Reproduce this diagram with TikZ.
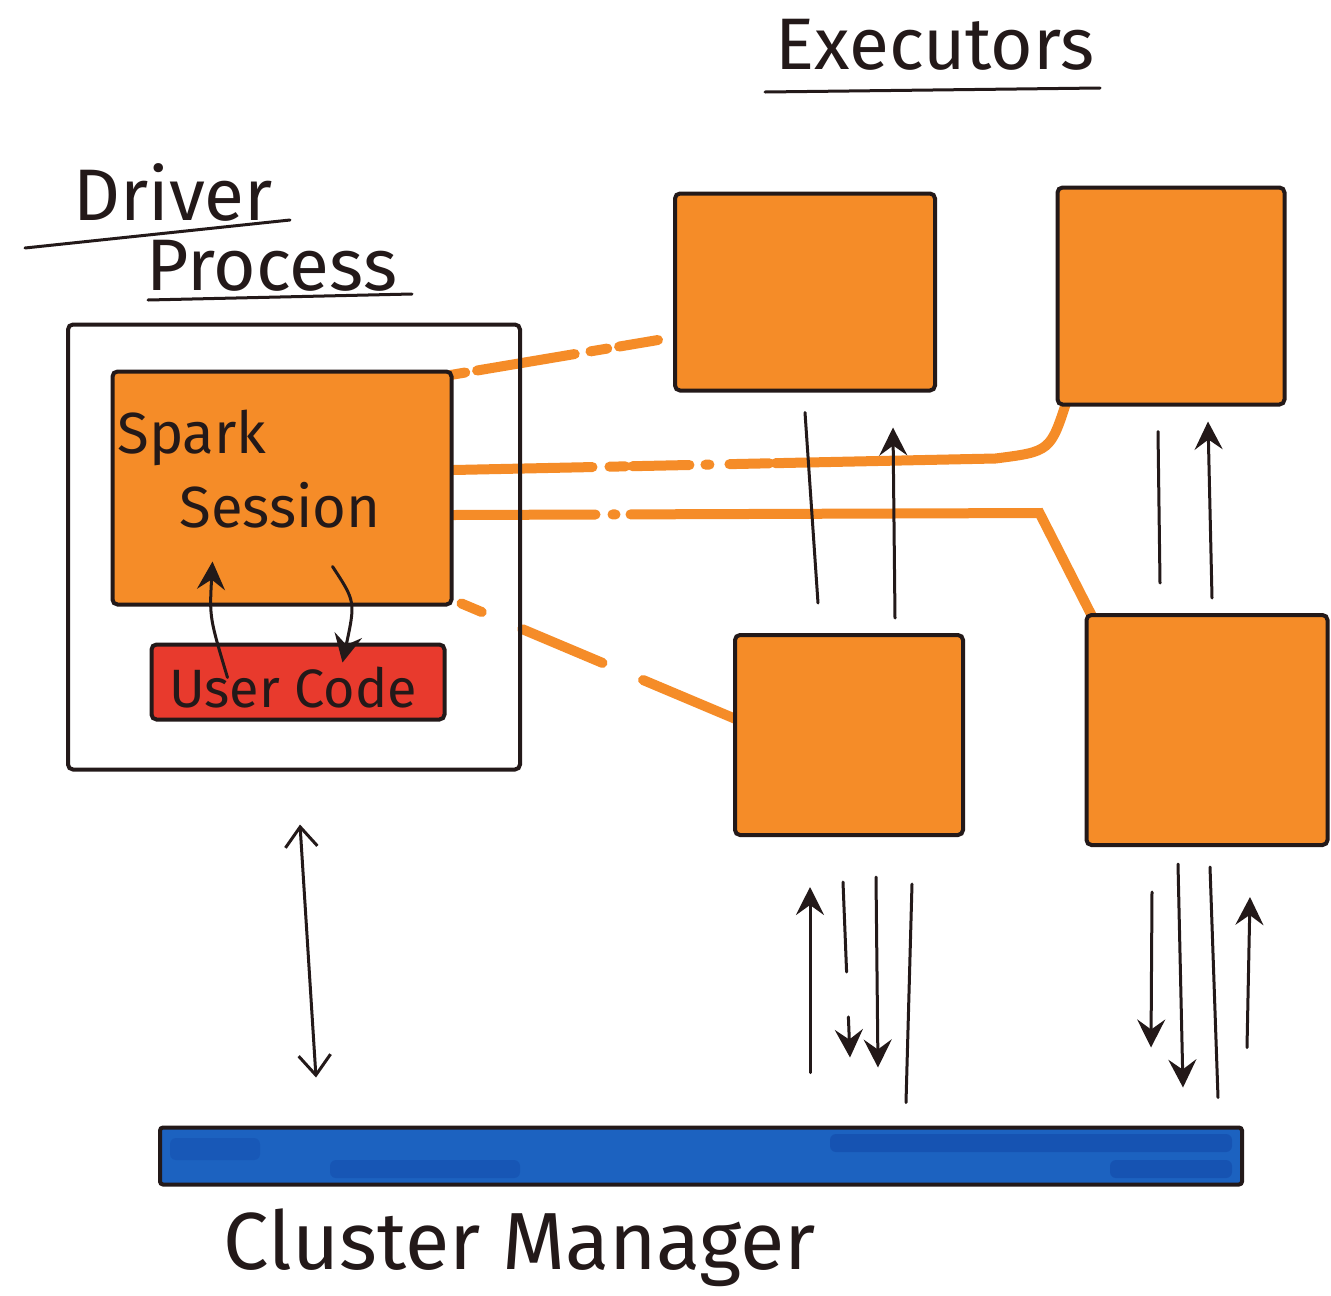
\documentclass[tikz,border=0pt]{standalone}
\usepackage{fontspec}
\setmainfont{Fira Sans}
\usetikzlibrary{arrows.meta,calc}
\pgfdeclarelayer{background}
\pgfsetlayers{background,main}
\definecolor{ink}{RGB}{35,25,25}
\definecolor{marker}{RGB}{245,140,40}
\definecolor{redmarker}{RGB}{232,58,45}
\definecolor{bluemarker}{RGB}{28,98,192}
\definecolor{darkblue}{RGB}{18,72,168}
\begin{document}
\begin{tikzpicture}[x=1pt,y=-1pt,
  box/.style={draw=ink, line width=4pt, rounded corners=5pt, inner sep=0pt},
  execbox/.style={box, fill=marker},
  handtext/.style={text=ink, inner sep=0pt},
  bigtext/.style={handtext, font=\fontsize{73}{80}\selectfont},
  midtext/.style={handtext, font=\fontsize{58}{64}\selectfont},
  wire/.style={draw=marker, line width=10pt, line cap=round},
  flow/.style={draw=ink, line width=3pt, line cap=round},
  arrowed/.style={-{Stealth[length=28pt,width=28pt,inset=10pt]}},
  barbed/.style={{Straight Barb[length=20pt,width=32pt,line width=3pt]}-{Straight Barb[length=20pt,width=32pt,line width=3pt]}}
]
\useasboundingbox (0,0) rectangle (1331,1296);

% titles
\node[bigtext] (exectitle) at (935,45) {Executors};
\node[bigtext] (drivertitle) at (173,192) {Driver};
\node[bigtext] (processtitle) at (272,266) {Process};
\node[handtext, font=\fontsize{81}{88}\selectfont] (cmtitle) at (520,1248) {Cluster Manager};
\draw[flow] (765,92) -- (1100,88);
\draw[flow] (25,248) -- (290,220);
\draw[flow] (148,300) -- (412,294);

% driver process
\node[box, minimum width=452pt, minimum height=445pt] (driver) at (294,547) {};
\node[execbox, minimum width=339pt, minimum height=233pt] (sess) at (282,488) {};
\node[midtext] (sparktext) at (192,438) {Spark};
\node[midtext] (sessiontext) at (280,505) {Session};
\node[box, fill=redmarker, minimum width=293pt, minimum height=75pt] (user) at (298,682) {};
\node[handtext, font=\fontsize{54}{60}\selectfont] (usertext) at (293,688) {User Code};

% executors
\node[execbox, minimum width=260pt, minimum height=197pt] (e1) at (805,292) {};
\node[execbox, minimum width=227pt, minimum height=217pt] (e2) at (1171,296) {};
\node[execbox, minimum width=228pt, minimum height=200pt] (e3) at (849,735) {};
\node[execbox, minimum width=241pt, minimum height=230pt] (e4) at (1207,730) {};

% cluster manager bar
\node[box, fill=bluemarker, rounded corners=3pt, minimum width=1082pt, minimum height=57pt] (bar) at (701,1156) {};
\fill[darkblue, opacity=0.55, rounded corners=6pt] (830,1134) rectangle (1232,1152);
\fill[darkblue, opacity=0.55, rounded corners=6pt] (1110,1160) rectangle (1232,1178);
\fill[darkblue, opacity=0.45, rounded corners=6pt] (330,1160) rectangle (520,1178);
\fill[darkblue, opacity=0.35, rounded corners=6pt] (170,1138) rectangle (260,1160);

% driver to executors
\begin{pgfonlayer}{background}
\fill[white] (0,0) rectangle (1331,1296);
\draw[wire, dash pattern=on 18pt off 12pt on 99pt off 16pt on 17pt off 12pt on 60pt]
  ($(sess.north east)+(-6,6)$) -- ($(e1.west)+(-15,48)$);
\draw[wire, dash pattern=on 139pt off 17pt on 16pt off 7pt on 57pt off 16pt on 4pt off 20pt on 40pt off 6pt on 2000pt]
  ($(sess.east)+(0,-18)$) -- ($(e2.south west)+(-60,52)$)
  .. controls ($(e2.south west)+(-5,45)$) .. ($(e2.south west)+(12,-8)$);
\draw[wire, dash pattern=on 142pt off 17pt on 3pt off 15pt on 2000pt]
  ($(sess.east)+(0,27)$) -- ($(e4.north west)+(-45,-100)$) -- ($(e4.north west)+(10,8)$);
\draw[wire, dash pattern=on 22pt off 44pt on 87pt off 44pt on 200pt]
  ($(sess.south east)+(8,-3)$) -- ($(e3.west)+(5,-15)$);
\end{pgfonlayer}

% session and user code
\draw[flow, arrowed] ($(user.north west)+(78,35)$) .. controls ($(user.north west)+(60,-25)$) .. ($(sess.south west)+(102,-45)$);
\draw[flow, arrowed] ($(sess.south west)+(222,-40)$) .. controls ($(sess.south west)+(245,-5)$) .. ($(user.north west)+(193,20)$);

% between executors
\draw[flow] ($(e1.south)+(0,20)$) -- ($(e3.north)+(-31,-30)$);
\draw[flow, arrowed] ($(e3.north)+(46,-15)$) -- ($(e1.south)+(88,35)$);
\draw[flow] ($(e2.south)+(-13,25)$) -- ($(e4.north)+(-47,-30)$);
\draw[flow, arrowed] ($(e4.north)+(5,-15)$) -- ($(e2.south)+(37,15)$);

% driver and cluster manager
\draw[flow, barbed] ($(driver.south)+(6,53)$) -- ($(bar.north west)+(158,-48)$);

% executors and cluster manager
\draw[flow, arrowed] ($(bar.north west)+(652,-53)$) -- ($(e3.south)+(-39,50)$);
\draw[flow, arrowed, dash pattern=on 90pt off 45pt on 200pt] ($(e3.south)+(-6,45)$) -- ($(bar.north west)+(692,-68)$);
\draw[flow, arrowed] ($(e3.south)+(27,40)$) -- ($(bar.north west)+(720,-58)$);
\draw[flow] ($(e3.south)+(63,47)$) -- ($(bar.north west)+(748,-23)$);
\draw[flow, arrowed] ($(e4.south)+(-55,45)$) -- ($(bar.north west)+(993,-78)$);
\draw[flow, arrowed] ($(e4.south)+(-29,17)$) -- ($(bar.north west)+(1025,-38)$);
\draw[flow] ($(e4.south)+(3,20)$) -- ($(bar.north west)+(1060,-28)$);
\draw[flow, arrowed] ($(bar.north east)+(3,-78)$) -- ($(e4.south)+(43,50)$);
\end{tikzpicture}
\end{document}
